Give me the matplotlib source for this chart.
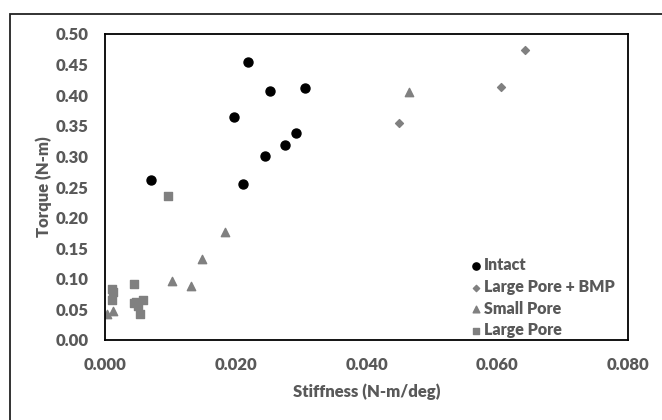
"""torque vs stiffness scatter for the four implant groups"""

import matplotlib
matplotlib.use('Agg')
import matplotlib.patches
import matplotlib.pyplot as plt

plt.rcParams['font.family'] = ['Lato', 'DejaVu Sans']

INTACT_X = [0.0219, 0.0252, 0.0306, 0.0197, 0.0292, 0.0275, 0.0245, 0.0070, 0.0211]
INTACT_Y = [0.454, 0.407, 0.412, 0.364, 0.339, 0.319, 0.300, 0.262, 0.255]

BMP_X = [0.0642, 0.0606, 0.0450]
BMP_Y = [0.474, 0.414, 0.354]

SMALL_X = [0.0465, 0.0183, 0.0148, 0.0103, 0.0132, 0.0003, 0.0012]
SMALL_Y = [0.405, 0.177, 0.132, 0.097, 0.089, 0.043, 0.047]

LARGE_X = [0.0097, 0.0045, 0.0010, 0.0012, 0.0011, 0.0045, 0.0050, 0.0058, 0.0048, 0.0053]
LARGE_Y = [0.235, 0.092, 0.083, 0.078, 0.065, 0.060, 0.055, 0.065, 0.062, 0.042]

X_TICKS = [0.0, 0.02, 0.04, 0.06, 0.08]
Y_TICKS = [0.0, 0.05, 0.10, 0.15, 0.20, 0.25, 0.30, 0.35, 0.40, 0.45, 0.50]

GRAY = '#808080'
TEXT_GRAY = '#595959'
FS = 12

fig = plt.figure(figsize=(6.62, 4.2), dpi=100)
fig.patches.append(matplotlib.patches.Rectangle(
    (10/662, -0.2), 1.2, 1.2 - 14/420, transform=fig.transFigure,
    fill=False, edgecolor='#222222', linewidth=1.3, clip_on=False))

ax = fig.add_axes([105/662, 1 - 340/420, 523/662, 306/420])
ax.scatter(INTACT_X, INTACT_Y, marker='o', s=42, color='black', label='Intact')
ax.scatter(BMP_X, BMP_Y, marker='D', s=16, color=GRAY, label='Large Pore + BMP')
ax.scatter(SMALL_X, SMALL_Y, marker='^', s=36, color=GRAY, label='Small Pore')
ax.scatter(LARGE_X, LARGE_Y, marker='s', s=32, color=GRAY, label='Large Pore')

ax.set_xlim(0, 0.08)
ax.set_ylim(0, 0.5)
ax.set_xticks(X_TICKS)
ax.set_yticks(Y_TICKS)
ax.set_xticklabels([f'{_:.3f}' for _ in X_TICKS])
ax.set_yticklabels([f'{_:.2f}' for _ in Y_TICKS])
ax.tick_params(length=0, labelsize=FS, labelcolor=TEXT_GRAY)
ax.tick_params(axis='y', pad=12)
ax.tick_params(axis='x', pad=12)
for lab in ax.get_xticklabels() + ax.get_yticklabels():
    lab.set_fontweight('heavy')
for sp in ax.spines.values():
    sp.set_color('black')
    sp.set_linewidth(1.3)

ax.set_xlabel('Stiffness (N-m/deg)', fontsize=FS, fontweight='heavy',
              color=TEXT_GRAY, labelpad=8)
ax.set_ylabel('Torque (N-m)', fontsize=FS, fontweight='heavy',
              color=TEXT_GRAY, labelpad=2)

leg = ax.legend(loc='lower left', bbox_to_anchor=(0.69, -0.015), frameon=False,
                handlelength=0.5, handletextpad=0.25, labelspacing=0.35,
                borderaxespad=0, fontsize=11.5, markerscale=0.8)
for txt in leg.get_texts():
    txt.set_color(TEXT_GRAY)
    txt.set_fontweight('heavy')

fig.savefig('out.png', dpi=100)
